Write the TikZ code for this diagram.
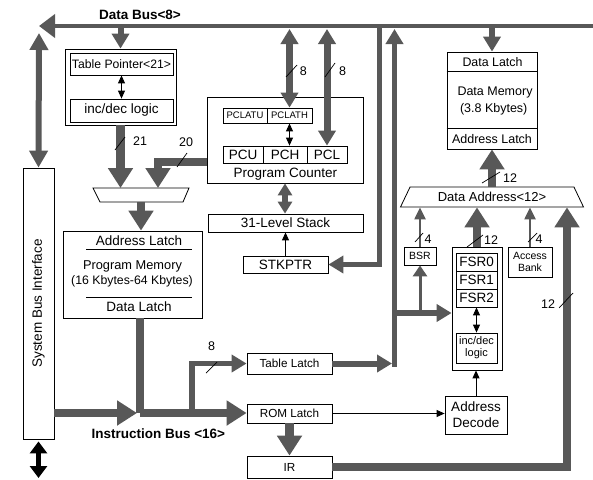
\documentclass[tikz,border=0pt]{standalone}
\usepackage{fontspec}
\setmainfont{Liberation Sans}
\usetikzlibrary{arrows.meta,shapes.geometric}
\definecolor{buscol}{RGB}{88,88,88}
\newcommand{\fsz}[2]{\fontsize{#1}{#2}\selectfont}
\tikzset{
  box/.style={draw,line width=0.8pt,inner sep=0pt,fill=white,font=\fsz{13}{14}},
  txt/.style={anchor=base,font=\fsz{13}{14}},
  num/.style={anchor=base,font=\fsz{12.5}{13}},
  fat/.style={buscol,line width=8.5pt,>={Triangle[width=24pt,length=20pt]}},
  mid/.style={buscol,line width=6pt,>={Triangle[width=17pt,length=15pt]}},
  slim/.style={buscol,line width=2.2pt,>={Triangle[width=11pt,length=12pt]}},
  tiny/.style={black,line width=0.9pt,>={Triangle[width=7pt,length=8pt]}},
  cut/.style={black,line width=0.7pt}
}
\begin{document}
\begin{tikzpicture}[x=1pt,y=-1pt]
\useasboundingbox (0,0) rectangle (593,479);
\node[box,minimum width=31pt,minimum height=271pt] (SBI) at (38.5,303.5) {};
\node[rotate=90,font=\fsz{13.5}{14}] at (SBI.center) {System Bus Interface};
\node[box,minimum width=111pt,minimum height=76pt] (TP) at (120.5,87) {};
\node[box,minimum width=103pt,minimum height=22pt,font=\fsz{12.2}{12}] (TPr) at (121.5,64) {Table Pointer<21>};
\node[box,minimum width=103pt,minimum height=23pt,font=\fsz{13.5}{14}] (TPi) at (121.5,110.5) {inc/dec logic};
\coordinate (MUXn) at (141,188);
\coordinate (MUXs) at (141,202);
\draw[line width=0.8pt] (93,188) -- (189,188) -- (183,202) -- (100,202) -- cycle;
\node[box,minimum width=139pt,minimum height=87pt] (PM) at (132.5,274.5) {};
\node[txt,font=\fsz{13.5}{14}] at (139,245) {Address Latch};
\draw[line width=0.8pt] (86,249) -- (192,249);
\node[txt,font=\fsz{12.8}{14}] at (132.5,269) {Program Memory};
\node[txt,font=\fsz{12.3}{14}] at (132,284) {(16 Kbytes-64 Kbytes)};
\draw[line width=0.8pt] (86,297) -- (192,297);
\node[txt,font=\fsz{13.5}{14}] at (139,311) {Data Latch};
\node[box,minimum width=156pt,minimum height=86pt] (PC) at (285,140) {};
\node[box,minimum width=44pt,minimum height=15pt,font=\fsz{9.5}{10}] (PCLU) at (245,115.5) {PCLATU};
\node[box,minimum width=45pt,minimum height=15pt,font=\fsz{9.5}{10}] (PCLH) at (289.5,115.5) {PCLATH};
\node[box,minimum width=40pt,minimum height=17pt,font=\fsz{13.5}{14}] (PCU) at (243,154.5) {PCU};
\node[box,minimum width=44pt,minimum height=17pt,font=\fsz{13.5}{14}] (PCH) at (285,154.5) {PCH};
\node[box,minimum width=40pt,minimum height=17pt,font=\fsz{13.5}{14}] (PCL) at (327,154.5) {PCL};
\node[txt,font=\fsz{13.5}{14}] at (285.3,177) {Program Counter};
\node[box,minimum width=155pt,minimum height=18pt,font=\fsz{13.5}{14}] (ST) at (285.5,223) {31-Level Stack};
\node[box,minimum width=85pt,minimum height=17pt,font=\fsz{13.5}{14}] (SP) at (285.5,264.5) {STKPTR};
\node[box,minimum width=85pt,minimum height=21pt,font=\fsz{11.7}{12}] (TL) at (289.5,363.5) {Table Latch};
\node[box,minimum width=85pt,minimum height=19pt,font=\fsz{11.7}{12}] (RL) at (289.5,413.5) {ROM Latch};
\node[box,minimum width=85pt,minimum height=22pt,font=\fsz{11.7}{12}] (IR) at (289.5,467) {IR};
\node[box,minimum width=90pt,minimum height=97pt] (DM) at (492,100.5) {};
\draw[line width=0.8pt] (DM.west |- 0,71) -- (DM.east |- 0,71);
\draw[line width=0.8pt] (DM.west |- 0,128) -- (DM.east |- 0,128);
\node[txt,font=\fsz{12.4}{14}] at (492.5,66) {Data Latch};
\node[txt,font=\fsz{12.5}{14}] at (495,95) {Data Memory};
\node[txt,font=\fsz{12.5}{14}] at (493.7,112) {(3.8 Kbytes)};
\node[txt,font=\fsz{12.5}{14}] at (492,143) {Address Latch};
\node[draw,line width=0.8pt,trapezium,trapezium angle=45,trapezium stretches body,
  minimum width=183pt,minimum height=20pt,inner sep=0pt,font=\fsz{13}{14}] (DA) at (492,197) {Data Address<12>};
\node[box,minimum width=32pt,minimum height=18pt,font=\fsz{10.5}{11}] (BSR) at (420,256) {BSR};
\node[box,minimum width=50pt,minimum height=123pt] (FSR) at (477,308.5) {};
\node[box,minimum width=41pt,minimum height=18pt,font=\fsz{13.5}{14}] (F0) at (476.5,262) {FSR0};
\node[box,minimum width=41pt,minimum height=18pt,font=\fsz{13.5}{14}] (F1) at (476.5,280) {FSR1};
\node[box,minimum width=41pt,minimum height=18pt,font=\fsz{13.5}{14}] (F2) at (476.5,298) {FSR2};
\node[box,minimum width=41pt,minimum height=30pt,align=center,font=\fsz{11}{12}] (Fi) at (476.5,348) {inc/dec\\logic};
\node[box,minimum width=44pt,minimum height=30pt,align=center,font=\fsz{10.5}{12.5}] (AB) at (530,262) {Access\\Bank};
\node[box,minimum width=62pt,minimum height=38pt,align=center,font=\fsz{13.5}{16}] (AD) at (476,415) {Address\\Decode};
\coordinate (DBL) at (39,26);
\coordinate (DBR) at (593,26);
\coordinate (DBu) at (0,29);
\draw[buscol,line width=4.5pt,-{Triangle[width=23pt,length=16pt]}] (DBR) -- (DBL);
\node[txt,font=\fsz{13.5}{14}\bfseries] at (140,19.3) {Data Bus<8>};
\coordinate (SBIt) at (39,33);
\draw[mid,<->,>={Triangle[width=18pt,length=17pt]}] (SBI.north) -- (SBIt);
\coordinate (IO) at (38.5,478);
\draw[black,line width=5pt,<->,>={Triangle[width=17pt,length=12pt]}] ([yshift=-2pt]SBI.south) -- (IO);
\draw[mid,->] (TP.north |- DBL) -- (TP.north);
\draw[tiny,<->] (TPr.south) -- (TPi.north);
\draw[fat,->] (TP.south) -- (TP.south |- MUXn);
\coordinate (J20) at (158,162);
\draw[fat,->] (PC.west |- J20) -- (J20) -- (J20 |- MUXn);
\draw[fat,->] (MUXs) -- (MUXs |- PM.north);
\coordinate (IB) at (140,413);
\draw[fat] (PM.south -| IB) -- (IB);
\draw[fat,->] (SBI.east |- IB) -- ([xshift=-3pt]IB);
\draw[fat,->] (IB) -- (IB -| RL.west);
\node[txt,font=\fsz{13.5}{14}\bfseries] at (158.3,438) {Instruction Bus <16>};
\coordinate (J8) at (192,413);
\draw[mid,line width=5.5pt,->] (J8) -- (J8 |- TL.west) -- (TL.west);
\draw[fat,->] (RL.south) -- (IR.north);
\coordinate (J12) at (567,467);
\draw[fat,->] (IR.east) -- (J12) -- (J12 |- DA.south);
\draw[fat,->] (DA.north) -- (DA.north |- DM.south);
\draw[mid,->] (DM.north |- DBL) -- (DM.north);
\draw[mid,line width=7pt,<->] (PCLH.north |- DBu) -- (PCLH.north);
\draw[mid,line width=7pt,<->] (PCL.north |- DBu) -- (PCL.north);
\draw[tiny,<->] (PCLH.south) -- (PCLH.south |- PCH.north);
\draw[mid,<->,>={Triangle[width=14pt,length=12pt]}] (PC.south) -- (PC.south |- ST.north);
\draw[tiny,->] (SP.north) -- (SP.north |- ST.south);
\coordinate (J379) at (379.5,264.5);
\draw[mid,line width=5pt,->] (J379 |- DBL) -- (J379) -- (SP.east);
\coordinate (JTL) at (394.5,363.5);
\draw[mid,->] (TL.east) -- ([xshift=-2.5pt]JTL);
\draw[mid,line width=5pt,->] ([yshift=-3pt]JTL) -- (JTL |- DBu);
\coordinate (JF) at (394.5,313);
\draw[mid,->] (JF) -- (JF -| FSR.west);
\draw[slim,line width=3pt,->,>={Triangle[width=14pt,length=11pt]}] (BSR.south |- JF) -- (BSR.south);
\draw[slim,->] (BSR.north) -- (BSR.north |- DA.south);
\draw[fat,->] (FSR.north) -- (FSR.north |- DA.south);
\draw[slim,->] (AB.north) -- (AB.north |- DA.south);
\draw[tiny,<->] (F2.south) -- (Fi.north);
\draw[tiny,->] (AD.north) -- (AD.north |- FSR.south);
\draw[tiny,->] (RL.east) -- (RL.east -| AD.west);
\draw[cut] (115,150) -- (125,137);
\draw[cut] (177,167) -- (187,153);
\draw[cut] (206,373) -- (217,362);
\draw[cut] (286,77) -- (297,65);
\draw[cut] (325,77) -- (335,63);
\draw[cut] (482,183) -- (500,172);
\draw[cut] (415,242) -- (423,233);
\draw[cut] (467,247) -- (483,235);
\draw[cut] (528,242) -- (537,233);
\draw[cut] (559,308) -- (573,293);
\node[num] at (140,145) {21};
\node[num] at (186,146) {20};
\node[num] at (211.7,350.7) {8};
\node[num] at (303.3,75) {8};
\node[num] at (342.7,75) {8};
\node[num] at (510,182.7) {12};
\node[num] at (428,243) {4};
\node[num] at (491,244) {12};
\node[num] at (539,243) {4};
\node[num] at (548,308) {12};
\end{tikzpicture}
\end{document}
